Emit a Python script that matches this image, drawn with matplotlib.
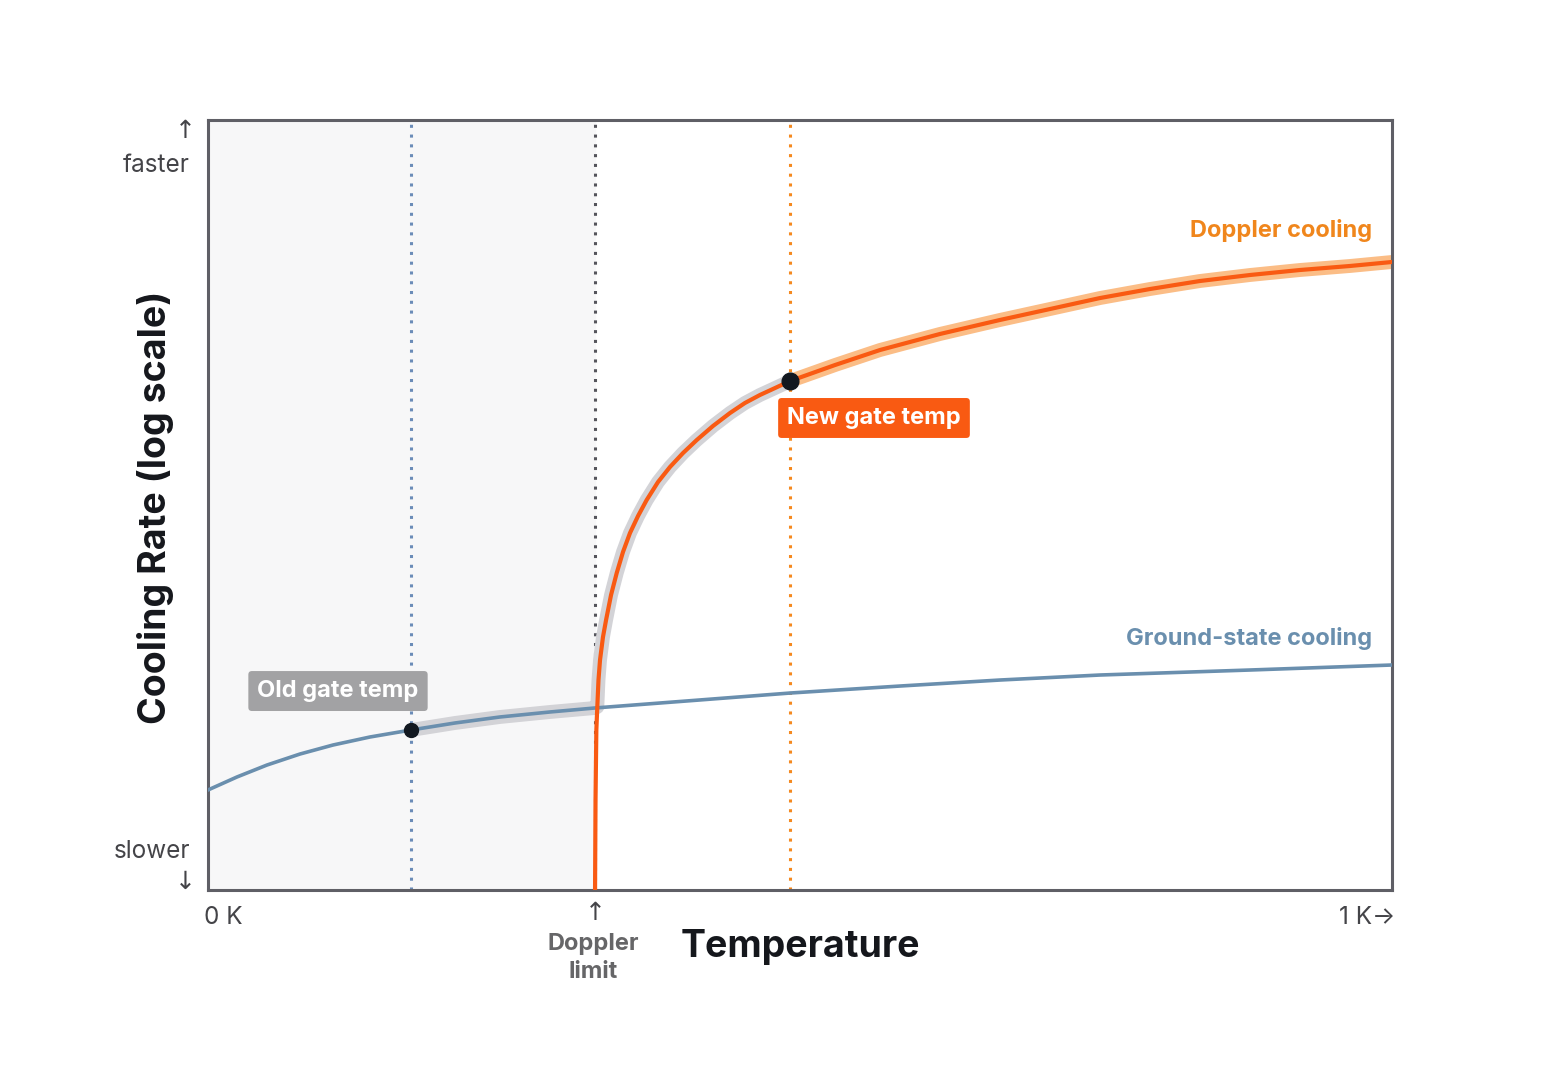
import matplotlib
matplotlib.use('Agg')
import matplotlib.pyplot as plt

plt.rcParams['font.family'] = ['Inter', 'DejaVu Sans']

# Temperature (0 = 0 K, 1 = 1 K) and cooling rate (relative, log scale)
ground_temp = [0.0, 0.0245, 0.0498, 0.0777, 0.1056, 0.1368, 0.1715, 0.2086, 0.2466,
               0.2889, 0.3269, 0.4155, 0.4916, 0.5845, 0.6689, 0.7534, 0.8801, 1.0]
ground_rate = [0.1299, 0.1468, 0.1623, 0.1766, 0.1883, 0.1987, 0.2078, 0.2169, 0.2247,
               0.2312, 0.2364, 0.2468, 0.2558, 0.2649, 0.2727, 0.2792, 0.2857, 0.2922]

doppler_temp = [0.3269, 0.3273, 0.3280, 0.3288, 0.3298, 0.3311, 0.3336, 0.3362, 0.3404,
                0.3452, 0.3505, 0.3564, 0.3632, 0.3705, 0.3801, 0.3902, 0.4012, 0.4128,
                0.4265, 0.4409, 0.4535, 0.4662, 0.4789, 0.4916, 0.5296, 0.5676, 0.6182,
                0.6689, 0.7111, 0.7534, 0.7956, 0.8378, 0.8801, 0.9223, 0.9645, 1.0]
doppler_rate = [0.0, 0.1169, 0.2078, 0.2377, 0.2727, 0.2987, 0.3286, 0.3506, 0.3831,
                0.4117, 0.4390, 0.4636, 0.4857, 0.5065, 0.5299, 0.5494, 0.5675, 0.5844,
                0.6026, 0.6195, 0.6325, 0.6429, 0.6519, 0.6610, 0.6818, 0.7013, 0.7221,
                0.7403, 0.7545, 0.7688, 0.7805, 0.7909, 0.7987, 0.8052, 0.8104, 0.8156]

doppler_limit = 0.3269
old_gate = (0.1715, 0.2078)
new_gate = (0.4916, 0.6610)

ORANGE = '#f95a12'
ORANGE_LIGHT = '#fbbd86'
ORANGE_DOT = '#f5891f'
BLUE = '#6a8fae'
GRAY_BAND = '#d3d3d7'
DARK = '#121820'

fig = plt.figure(figsize=(15.6, 10.66), dpi=100)
ax = fig.add_axes([208 / 1560, 176 / 1066, 1184 / 1560, 770 / 1066])
ax.set_xlim(0, 1)
ax.set_ylim(0, 1)

# shaded region below the Doppler limit
ax.axvspan(0, doppler_limit, color='#f7f7f8', zorder=0)

# dotted reference lines
ax.axvline(old_gate[0], color='#6b8cb8', lw=2.2, ls=(0, (1, 2.2)), zorder=1)
ax.axvline(doppler_limit, color='#55555c', lw=2.2, ls=(0, (1, 2.2)), zorder=1)
ax.axvline(new_gate[0], color=ORANGE_DOT, lw=2.2, ls=(0, (1, 2.2)), zorder=1)

# highlight bands: old gate -> Doppler limit -> new gate in gray, beyond in orange
i0 = ground_temp.index(old_gate[0])
i1 = ground_temp.index(doppler_limit)
j0 = 3
j1 = doppler_temp.index(new_gate[0])
band_x = ground_temp[i0:i1 + 1] + doppler_temp[j0:j1 + 1]
band_y = ground_rate[i0:i1 + 1] + doppler_rate[j0:j1 + 1]
ax.plot(band_x, band_y, color=GRAY_BAND, lw=10, solid_capstyle='butt',
        solid_joinstyle='round', zorder=2)
ax.plot(doppler_temp[j1:], doppler_rate[j1:], color=ORANGE_LIGHT, lw=10,
        solid_capstyle='butt', solid_joinstyle='round', zorder=2)

# curves
ax.plot(ground_temp, ground_rate, color=BLUE, lw=2.6, solid_joinstyle='round', zorder=3)
ax.plot(doppler_temp, doppler_rate, color=ORANGE, lw=3, solid_joinstyle='round', zorder=4)

# gate temperature points
ax.plot(*old_gate, 'o', color=DARK, ms=10, zorder=5)
ax.plot(*new_gate, 'o', color=DARK, ms=12, zorder=5)

ax.text(0.1098, 0.2584, 'Old gate temp', color='white', fontsize=17, fontweight='bold',
        ha='center', va='center', zorder=6,
        bbox=dict(boxstyle='round,pad=0.38,rounding_size=0.15', fc='#a2a2a4', ec='none'))
ax.text(0.5625, 0.613, 'New gate temp', color='white', fontsize=17, fontweight='bold',
        ha='center', va='center', zorder=6,
        bbox=dict(boxstyle='round,pad=0.38,rounding_size=0.15', fc=ORANGE, ec='none'))

ax.text(0.983, 0.857, 'Doppler cooling', color='#f0861c', fontsize=17, fontweight='bold',
        ha='right', va='center')
ax.text(0.983, 0.327, 'Ground-state cooling', color=BLUE, fontsize=17, fontweight='bold',
        ha='right', va='center')

ax.set_xticks([])
ax.set_yticks([])
for s in ax.spines.values():
    s.set_color('#5f5f66')
    s.set_linewidth(2.2)

# outer labels (figure pixel coordinates)
def ftext(x, y, s, **kw):
    fig.text(x / 1560, 1 - y / 1066, s, **kw)

gray = '#444448'
ftext(185, 131, '↑', color=gray, fontsize=18, ha='center', va='center', family='DejaVu Sans')
ftext(190, 165, 'faster', color=gray, fontsize=17.5, ha='right', va='center')
ftext(190, 851, 'slower', color=gray, fontsize=17.5, ha='right', va='center')
ftext(185, 882, '↓', color=gray, fontsize=18, ha='center', va='center', family='DejaVu Sans')
ftext(204, 918, '0 K', color=gray, fontsize=17.5, ha='left', va='center')
ftext(1395, 918, '1 K→', color=gray, fontsize=17.5, ha='right', va='center')
ftext(595, 913, '↑', color=gray, fontsize=18, ha='center', va='center', family='DejaVu Sans')
ftext(593, 958, 'Doppler\nlimit', color='#666668', fontsize=17, fontweight='bold',
      ha='center', va='center', linespacing=1.4)
ftext(800, 947, 'Temperature', color='#15171c', fontsize=27, fontweight='bold',
      ha='center', va='center')
ftext(155, 507, 'Cooling Rate (log scale)', color='#15171c', fontsize=27, fontweight='bold',
      ha='center', va='center', rotation=90)

fig.savefig('out.png', dpi=100, facecolor='white')
